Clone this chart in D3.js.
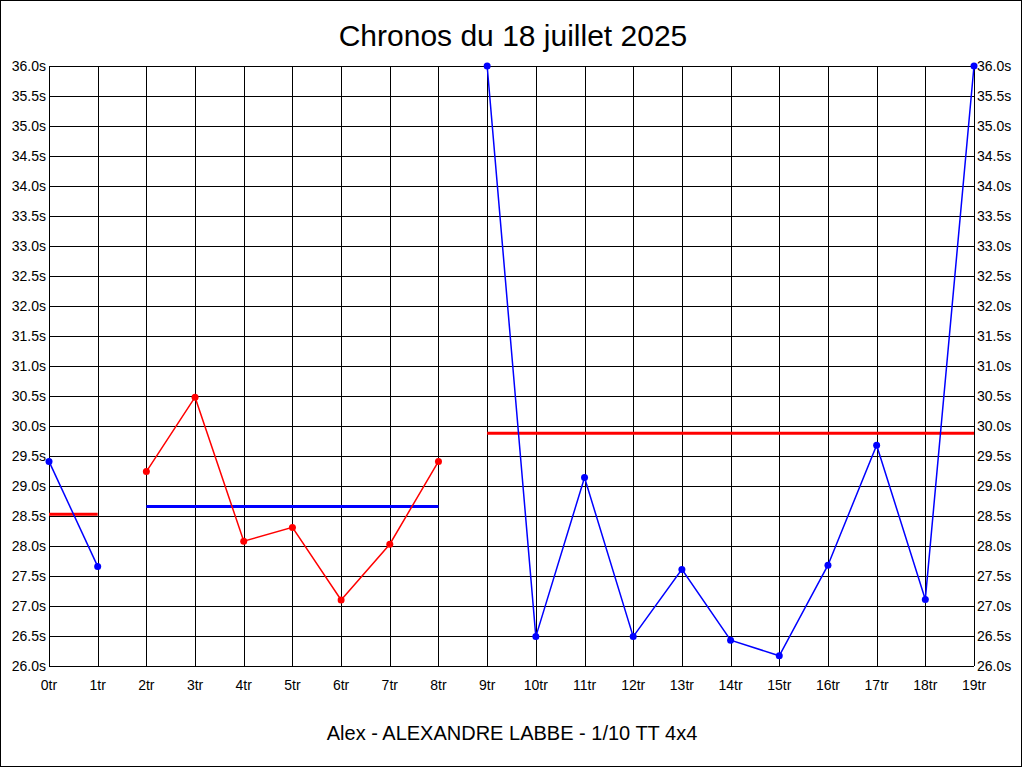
<!DOCTYPE html>
<meta charset="utf-8">
<head>
	<style type="text/css">
		body { margin: 0; background: #fff; }
		text { font-family: "Liberation Sans", Arial, sans-serif; fill: #000; }
	</style>
	<title>Chronos du 18 juillet 2025</title>
</head>

<script src="https://cdn.jsdelivr.net/npm/d3@7"></script>

<svg width="1024" height="768" id="svg1"></svg>

<script>
	// lap labels and lap times (s), values above 36 s are drawn clipped at the top
	const laps = ['0tr','1tr','2tr','3tr','4tr','5tr','6tr','7tr','8tr','9tr',
	              '10tr','11tr','12tr','13tr','14tr','15tr','16tr','17tr','18tr','19tr'];
	const times = [29.41, 27.66, 29.24, 30.48, 28.08, 28.31, 27.10, 28.03, 29.41, 36.0,
	               26.49, 29.14, 26.49, 27.61, 26.43, 26.17, 27.68, 29.68, 27.11, 36.0];

	// runs of laps: first lap, last lap, colour of the run, its mean time and mean colour
	const runStart = [0, 2, 9];
	const runEnd = [1, 8, 19];
	const runColor = ['#0000ff', '#ff0000', '#0000ff'];
	const runMean = [28.53, 28.66, 29.88];
	const meanColor = ['#ff0000', '#0000ff', '#ff0000'];

	const yTicks = d3.range(26, 36.01, 0.5);

	const svg1 = d3.select('#svg1');

	const plotLeft = 49, plotRight = 974, plotTop = 66, plotBottom = 666;

	const x = d3.scaleLinear().domain([0, laps.length - 1]).range([plotLeft, plotRight]);
	const y = d3.scaleLinear().domain([26, 36]).range([plotBottom, plotTop]);

	// outer frame
	svg1.append('rect')
		.attr('x', 0.5).attr('y', 0.5)
		.attr('width', 1021).attr('height', 766)
		.attr('fill', 'none').attr('stroke', 'black');

	// grid
	const grid = svg1.append('g').attr('stroke', 'black').attr('stroke-width', 1);
	grid.selectAll('.hline')
		.data(yTicks)
		.enter().append('line')
			.attr('x1', plotLeft).attr('x2', plotRight)
			.attr('y1', d => Math.round(y(d)) + 0.5)
			.attr('y2', d => Math.round(y(d)) + 0.5);
	grid.selectAll('.vline')
		.data(laps)
		.enter().append('line')
			.attr('y1', plotTop).attr('y2', plotBottom)
			.attr('x1', (d, i) => Math.round(x(i)) + 0.5)
			.attr('x2', (d, i) => Math.round(x(i)) + 0.5);

	// axes labels
	const fmt = d => d.toFixed(1) + 's';
	svg1.append('g').selectAll('text')
		.data(yTicks)
		.enter().append('text')
			.attr('x', plotLeft - 3)
			.attr('y', d => y(d))
			.attr('dy', '0.36em')
			.attr('text-anchor', 'end')
			.style('font-size', '14px')
			.text(fmt);
	svg1.append('g').selectAll('text')
		.data(yTicks)
		.enter().append('text')
			.attr('x', plotRight + 3)
			.attr('y', d => y(d))
			.attr('dy', '0.36em')
			.attr('text-anchor', 'start')
			.style('font-size', '14px')
			.text(fmt);
	svg1.append('g').selectAll('text')
		.data(laps)
		.enter().append('text')
			.attr('x', (d, i) => x(i))
			.attr('y', plotBottom + 19)
			.attr('dy', '0.36em')
			.attr('text-anchor', 'middle')
			.style('font-size', '14px')
			.text(d => d);

	// mean lines
	runStart.forEach((s, k) => {
		svg1.append('line')
			.attr('x1', x(s)).attr('x2', x(runEnd[k]))
			.attr('y1', y(runMean[k])).attr('y2', y(runMean[k]))
			.attr('stroke', meanColor[k])
			.attr('stroke-width', 3);
	});

	// lap time runs
	const line = d3.line().x(d => x(d)).y(d => y(Math.min(times[d], 36)));
	runStart.forEach((s, k) => {
		const idx = d3.range(s, runEnd[k] + 1);
		const g = svg1.append('g');
		g.append('path')
			.attr('d', line(idx))
			.attr('fill', 'none')
			.attr('stroke', runColor[k])
			.attr('stroke-width', 1.5);
		g.selectAll('circle')
			.data(idx)
			.enter().append('circle')
				.attr('cx', d => x(d))
				.attr('cy', d => y(Math.min(times[d], 36)))
				.attr('r', 3.5)
				.attr('fill', runColor[k]);
	});

	// titles
	svg1.append('text')
		.attr('x', 513).attr('y', 46)
		.attr('text-anchor', 'middle')
		.style('font-size', '30px')
		.text('Chronos du 18 juillet 2025');
	svg1.append('text')
		.attr('x', 512).attr('y', 740)
		.attr('text-anchor', 'middle')
		.style('font-size', '20px')
		.text('Alex - ALEXANDRE LABBE - 1/10 TT 4x4');
</script>
